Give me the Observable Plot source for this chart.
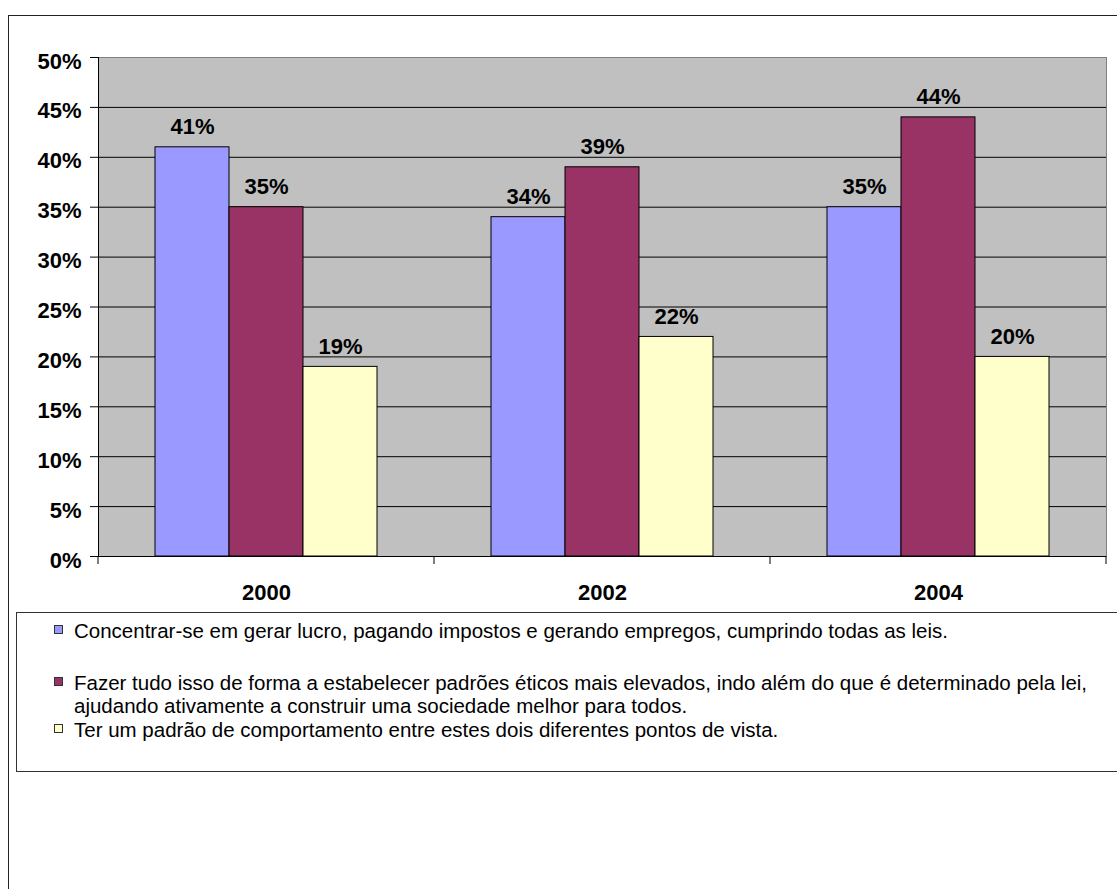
<!DOCTYPE html>
<html>
<head>
<meta charset="utf-8">
<script src="https://cdn.jsdelivr.net/npm/d3@7"></script>
<script src="https://cdn.jsdelivr.net/npm/@observablehq/plot@0.6"></script>
<style>
  html, body { margin: 0; padding: 0; background: #fff; overflow: hidden; }
  #wrap { position: relative; width: 1117px; height: 889px; overflow: hidden; font-family: "Liberation Sans", Arial, sans-serif; }
  #outer { position: absolute; left: 8px; top: 15px; width: 1200px; height: 1000px; border: 1.5px solid #222; box-sizing: border-box; }
  #chart { position: absolute; left: 0; top: 0; }
  #legend { position: absolute; left: 16px; top: 612px; width: 1200px; height: 160px; border: 1.5px solid #333; box-sizing: border-box; }
  .item { position: absolute; left: 0; font-size: 20.5px; line-height: 22.5px; color: #000; }
  .sw { position: absolute; left: 37px; width: 9px; height: 9px; border: 1px solid #333; box-sizing: border-box; }
  .tx { position: absolute; left: 57px; white-space: nowrap; }
</style>
</head>
<body>
<div id="wrap">
  <div id="outer"></div>
  <div id="chart"></div>
  <div id="legend"></div>
</div>
<script>
const years = ["2000", "2002", "2004"];
const seriesNames = [
  "Concentrar-se em gerar lucro, pagando impostos e gerando empregos, cumprindo todas as leis.",
  "Fazer tudo isso de forma a estabelecer padrões éticos mais elevados, indo além do que é determinado pela lei,\najudando ativamente a construir uma sociedade melhor para todos.",
  "Ter um padrão de comportamento entre estes dois diferentes pontos de vista."
];
const seriesColors = ["#9999FF", "#993366", "#FFFFCC"];
const lucro = [41, 34, 35];
const etico = [35, 39, 44];
const intermediario = [19, 22, 20];
const yTicks = [0, 5, 10, 15, 20, 25, 30, 35, 40, 45, 50];

const seriesValues = [lucro, etico, intermediario];
const data = [];
years.forEach((yr, i) => seriesNames.forEach((s, j) => data.push({year: yr, serie: s, value: seriesValues[j][i]})));

const chart = Plot.plot({
  width: 1117,
  height: 611,
  marginLeft: 97,
  marginRight: 10,
  marginTop: 57,
  marginBottom: 55,
  style: {fontFamily: "'Liberation Sans', Arial, sans-serif", background: "transparent", color: "#000"},
  fx: {domain: years, padding: 0, label: null},
  x: {domain: seriesNames, paddingInner: 0, paddingOuter: 0.744, axis: null},
  y: {domain: [0, 50], label: null},
  color: {domain: seriesNames, range: seriesColors},
  marks: [
    Plot.frame({fill: "#C0C0C0", stroke: "#808080", facet: "super"}),
    Plot.ruleY(yTicks.filter(t => t < 50), {stroke: "#000", strokeWidth: 1}),
    Plot.frame({anchor: "left", stroke: "#000", facet: "super"}),
    Plot.barY(data, {fx: "year", x: "serie", y: "value", fill: "serie", stroke: "#000", strokeWidth: 1}),
    Plot.text(data, {fx: "year", x: "serie", y: "value", text: d => d.value + "%", dy: -20, fontSize: 22, fontWeight: "bold", fill: "#000"}),
    Plot.axisY({ticks: yTicks, tickSize: 8, tickFormat: () => "", label: null}),
    Plot.axisY({ticks: yTicks, tickSize: 0, tickPadding: 17, dy: 4, tickFormat: d => d + "%", fontSize: 22, fontWeight: "bold", label: null}),
    Plot.axisFx({anchor: "bottom", tickSize: 0, tickPadding: 28, fontSize: 22, fontWeight: "bold", label: null})
  ]
});
document.getElementById("chart").appendChild(chart);

// boundary ticks between categories, from the fx and y scales
const fxs = chart.scale("fx");
const ys = chart.scale("y");
const y0 = ys.apply(0);
const bounds = years.map(y => fxs.apply(y)).concat([fxs.apply(years[years.length - 1]) + fxs.bandwidth]);
d3.select(chart).append("g")
  .selectAll("line").data(bounds).join("line")
  .attr("x1", d => d).attr("x2", d => d)
  .attr("y1", y0).attr("y2", y0 + 8)
  .attr("stroke", "#000");

// legend
const tops = [7, 59, 106];
const legend = d3.select("#legend");
seriesNames.forEach((s, i) => {
  const it = legend.append("div").attr("class", "item").style("top", tops[i] + "px");
  it.append("div").attr("class", "sw").style("top", "5px").style("background", seriesColors[i]);
  const tx = it.append("div").attr("class", "tx");
  s.split("\n").forEach(line => tx.append("div").text(line));
});
</script>
</body>
</html>
